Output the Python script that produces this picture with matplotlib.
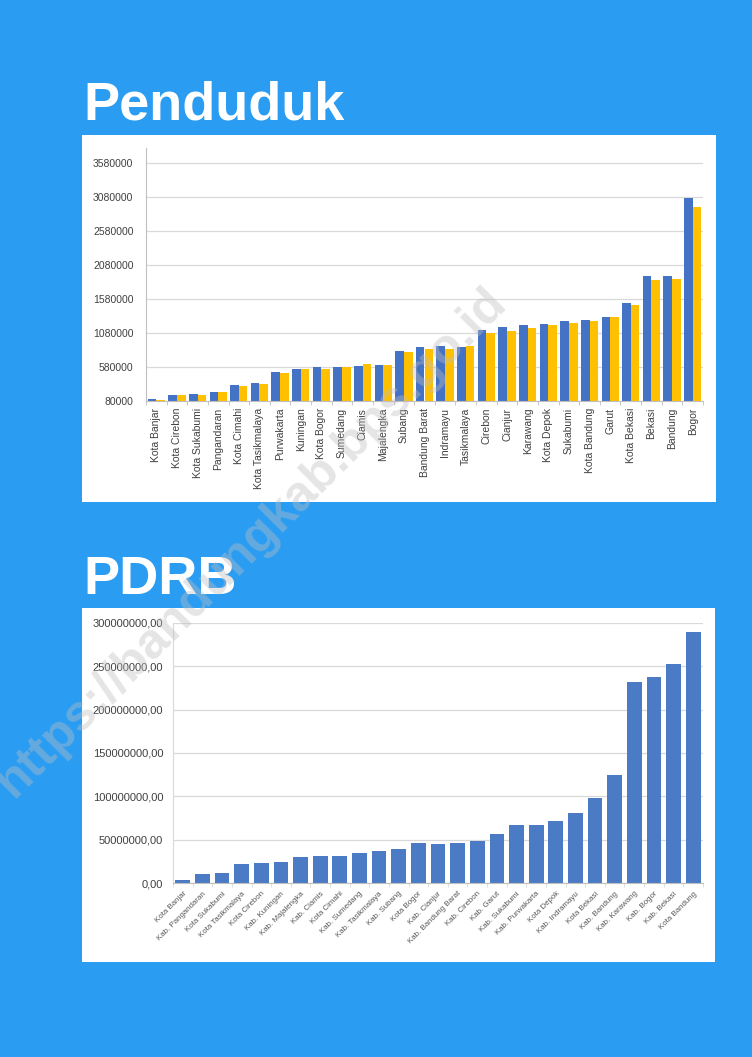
import numpy as np
import matplotlib
matplotlib.use("Agg")
from matplotlib import pyplot as plt
from matplotlib.patches import Rectangle
from matplotlib.ticker import FixedLocator, FuncFormatter
import matplotlib.transforms as mtransforms

plt.rcParams['font.family'] = ['Liberation Sans', 'DejaVu Sans']

# --- Penduduk (two series per wilayah) ---
penduduk_labels = ["Kota Banjar", "Kota Cirebon", "Kota Sukabumi", "Pangandaran", "Kota Cimahi",
                   "Kota Tasikmalaya", "Purwakarta", "Kuningan", "Kota Bogor", "Sumedang", "Ciamis",
                   "Majalengka", "Subang", "Bandung Barat", "Indramayu", "Tasikmalaya", "Cirebon",
                   "Cianjur", "Karawang", "Kota Depok", "Sukabumi", "Kota Bandung", "Garut",
                   "Kota Bekasi", "Bekasi", "Bandung", "Bogor"]
penduduk_biru = [100000, 168000, 178000, 203000, 316000, 340000, 498000, 552000, 572000, 581000,
                 591000, 606000, 808000, 867000, 891000, 871000, 1127000, 1162000, 1201000,
                 1216000, 1250000, 1265000, 1319000, 1511000, 1914000, 1914000, 3059000]
penduduk_kuning = [90000, 168000, 168000, 203000, 301000, 331000, 488000, 542000, 552000, 581000,
                   616000, 606000, 798000, 837000, 837000, 891000, 1083000, 1102000, 1157000,
                   1196000, 1221000, 1250000, 1309000, 1496000, 1855000, 1869000, 2926000]
penduduk_ticks = [80000, 580000, 1080000, 1580000, 2080000, 2580000, 3080000, 3580000]

# --- PDRB ---
pdrb_labels = ["Kota Banjar", "Kab. Pangandaran", "Kota Sukabumi", "Kota Tasikmalaya", "Kota Cirebon",
               "Kab. Kuningan", "Kab. Majalengka", "Kab. Ciamis", "Kota Cimahi", "Kab. Sumedang",
               "Kab. Tasikmalaya", "Kab. Subang", "Kota Bogor", "Kab. Cianjur", "Kab. Bandung Barat",
               "Kab. Cirebon", "Kab. Garut", "Kab. Sukabumi", "Kab. Purwakarta", "Kota Depok",
               "Kab. Indramayu", "Kota Bekasi", "Kab. Bandung", "Kab. Karawang", "Kab. Bogor",
               "Kab. Bekasi", "Kota Bandung"]
pdrb_values = [4.2e6, 10.7e6, 11.9e6, 21.9e6, 23.0e6, 24.6e6, 30.7e6, 31.5e6, 31.8e6, 34.9e6,
               36.8e6, 39.5e6, 46.0e6, 45.6e6, 46.8e6, 49.1e6, 57.2e6, 67.1e6, 67.1e6, 71.4e6,
               80.9e6, 98.2e6, 124.3e6, 231.3e6, 237.4e6, 252.0e6, 289.2e6]
pdrb_ticks = [0, 50e6, 100e6, 150e6, 200e6, 250e6, 300e6]

W, H = 752, 1057
fig = plt.figure(figsize=(W / 100, H / 100), dpi=100)
fig.patch.set_facecolor("#2A9DF3")


def fx(px):
    return px / W


def fy(py):
    return 1 - py / H


# white panels
fig.add_artist(Rectangle((fx(82), fy(502)), fx(716) - fx(82), fy(135) - fy(502),
                         transform=fig.transFigure, facecolor="white", edgecolor="none", zorder=-1))
fig.add_artist(Rectangle((fx(82), fy(962)), fx(715) - fx(82), fy(608) - fy(962),
                         transform=fig.transFigure, facecolor="white", edgecolor="none", zorder=-1))

# titles
fig.text(fx(83), fy(119), "Penduduk", color="white", fontsize=39, fontweight="bold", va="baseline")
fig.text(fx(83), fy(594), "PDRB", color="white", fontsize=39, fontweight="bold", va="baseline")

grid_c = "#D9D9D9"
text_c = "#404040"

# ---- top chart ----
ax1 = fig.add_axes([fx(146), fy(400.7), fx(703) - fx(146), fy(148) - fy(400.7)])
x = np.arange(len(penduduk_labels))
ax1.bar(x - 0.21, penduduk_biru, width=0.42, color="#4472C4", zorder=2)
ax1.bar(x + 0.21, penduduk_kuning, width=0.42, color="#FFC000", zorder=2)
ax1.set_xlim(-0.5, len(x) - 0.5)
ax1.set_ylim(80000, 3800000)
ax1.set_yticks(penduduk_ticks)
ax1.yaxis.set_major_formatter(FuncFormatter(lambda v, p: "%d" % v))
ax1.grid(axis="y", color=grid_c, linewidth=0.9, zorder=0)
ax1.set_xticks(x)
ax1.set_xticklabels(penduduk_labels, rotation=90, fontsize=7.5, color=text_c)
ax1.xaxis.set_minor_locator(FixedLocator(np.arange(-0.5, len(x), 1.0)))
ax1.tick_params(axis="x", which="major", length=0, pad=5)
ax1.tick_params(axis="x", which="minor", length=3, color="#BFBFBF")
ax1.tick_params(axis="y", length=0, pad=9, labelsize=7.5, labelcolor=text_c)
for s in ["top", "right"]:
    ax1.spines[s].set_visible(False)
ax1.spines["left"].set_color("#BFBFBF")
ax1.spines["bottom"].set_color("#BFBFBF")
ax1.set_facecolor("white")

# ---- bottom chart ----
ax2 = fig.add_axes([fx(173), fy(883.3), fx(703) - fx(173), fy(622.7) - fy(883.3)])
x2 = np.arange(len(pdrb_labels))
ax2.bar(x2, pdrb_values, width=0.75, color="#4A7BC4", zorder=2)
ax2.set_xlim(-0.5, len(x2) - 0.5)
ax2.set_ylim(0, 300e6)
ax2.set_yticks(pdrb_ticks)
ax2.yaxis.set_major_formatter(FuncFormatter(lambda v, p: ("%.2f" % v).replace(".", ",")))
ax2.grid(axis="y", color=grid_c, linewidth=0.9, zorder=0)
ax2.set_xticks(x2)
ax2.set_xticklabels(pdrb_labels, rotation=45, ha="right", va="top", rotation_mode="anchor",
                    fontsize=5.7, color="#595959")
offset = mtransforms.ScaledTranslation(6 / 100, 0, fig.dpi_scale_trans)
for lab in ax2.get_xticklabels():
    lab.set_transform(lab.get_transform() + offset)
ax2.xaxis.set_minor_locator(FixedLocator(np.arange(-0.5, len(x2), 1.0)))
ax2.tick_params(axis="x", which="major", length=0, pad=5)
ax2.tick_params(axis="x", which="minor", length=3, color="#D9D9D9")
ax2.tick_params(axis="y", length=0, pad=7, labelsize=8, labelcolor="#404040")
for s in ["top", "right"]:
    ax2.spines[s].set_visible(False)
ax2.spines["left"].set_color("#D9D9D9")
ax2.spines["bottom"].set_color("#BFBFBF")

# watermark
fig.text(fx(252), fy(542), "https://bandungkab.bps.go.id", rotation=45, fontsize=36,
         fontweight="bold", color="#BEBEBE", alpha=0.4, ha="center", va="center", zorder=10)

fig.savefig("out.png", dpi=100)
